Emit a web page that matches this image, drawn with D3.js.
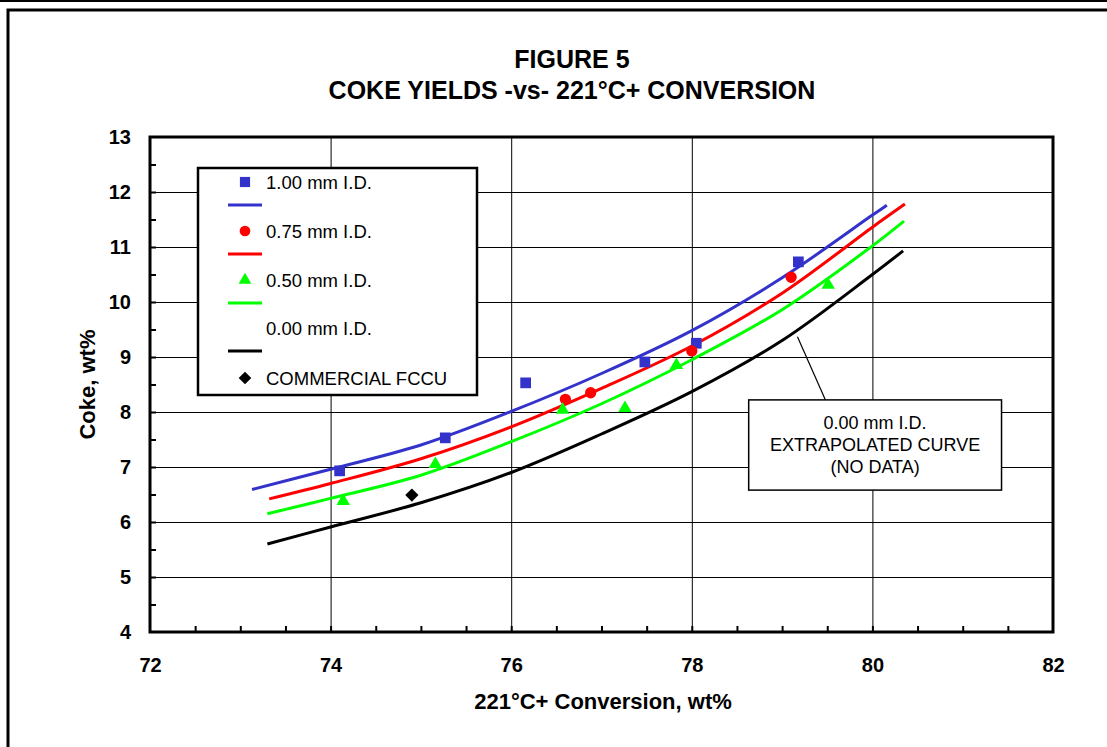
<!DOCTYPE html>
<html>
<head>
<meta charset="utf-8">
<script src="https://cdn.jsdelivr.net/npm/d3@7/dist/d3.min.js"></script>
<style>
  body { margin: 0; background: #fff; }
  svg { display: block; font-family: "Liberation Sans", Arial, sans-serif; }
  .grid line { stroke: #000; stroke-width: 1; }
  .grid path, .minor path, .labels path { display: none; }
  .minor line { stroke: #000; stroke-width: 2; }
  .labels text { font-size: 20px; font-weight: bold; fill: #000; }
</style>
</head>
<body>
<div id="chart"></div>
<script>
//wrap everything in a self-executing anonymous function
(function(){

  //tick labels
  var xTicks = [72, 74, 76, 78, 80, 82];
  var yTicks = [4, 5, 6, 7, 8, 9, 10, 11, 12, 13];

  var id100X = [74.10, 75.27, 76.16, 77.48, 78.05, 79.18];
  var id100Y = [6.93, 7.53, 8.53, 8.91, 9.25, 10.73];
  var id075X = [76.60, 76.88, 78.00, 79.10];
  var id075Y = [8.23, 8.35, 9.11, 10.45];
  var id050X = [74.14, 75.16, 76.57, 77.26, 77.83, 79.51];
  var id050Y = [6.38, 7.05, 8.04, 8.07, 8.85, 10.31];
  var fccuX = [74.90];
  var fccuY = [6.49];

  //fitted curves
  var fit100X = [73.13, 74, 75, 76, 77, 78, 79, 80, 80.16];
  var fit100Y = [6.59, 6.96, 7.40, 8.01, 8.70, 9.48, 10.44, 11.58, 11.76];
  var fit075X = [73.32, 74, 75, 76, 77, 78, 79, 80, 80.36];
  var fit075Y = [6.42, 6.70, 7.15, 7.73, 8.43, 9.20, 10.16, 11.36, 11.78];
  var fit050X = [73.30, 74, 75, 76, 77, 78, 79, 80, 80.35];
  var fit050Y = [6.15, 6.43, 6.85, 7.46, 8.15, 8.95, 9.86, 11.02, 11.47];
  var fit000X = [73.30, 74, 75, 76, 77, 78, 79, 80, 80.34];
  var fit000Y = [5.60, 5.91, 6.35, 6.90, 7.60, 8.37, 9.30, 10.50, 10.93];

  var titleLines = ["FIGURE 5", "COKE YIELDS -vs- 221°C+ CONVERSION"];
  var legendLabels = ["1.00 mm I.D.", "0.75 mm I.D.", "0.50 mm I.D.", "0.00 mm I.D.", "COMMERCIAL FCCU"];
  var noteLines = ["0.00 mm I.D.", "EXTRAPOLATED CURVE", "(NO DATA)"];

  var blue = "#3333CC", red = "#FF0000", green = "#00FF00", black = "#000000";

  window.onload = setChart();

  function zip(xs, ys){
    return xs.map(function(v, i){ return [v, ys[i]]; });
  };

  function setChart(){
    var width = 1107, height = 747;
    var left = 150, right = 1053, top = 137, bottom = 632;

    var svg = d3.select("#chart")
      .append("svg")
      .attr("width", width)
      .attr("height", height);

    //outer page frame
    svg.append("line")
      .attr("x1", 0).attr("x2", width).attr("y1", 1).attr("y2", 1)
      .attr("stroke", "#000").attr("stroke-width", 2);
    svg.append("rect")
      .attr("x", 8).attr("y", 10)
      .attr("width", width + 10).attr("height", height + 10)
      .attr("fill", "none").attr("stroke", "#000").attr("stroke-width", 3);

    var x = d3.scaleLinear().domain([72, 82]).range([left, right]);
    var y = d3.scaleLinear().domain([4, 13]).range([bottom, top]);

    //title
    svg.selectAll(".title")
      .data(titleLines)
      .enter()
      .append("text")
      .attr("class", "title")
      .attr("x", 572)
      .attr("y", function(d, i){ return 68 + i * 31; })
      .attr("text-anchor", "middle")
      .style("font-size", "25px")
      .style("font-weight", "bold")
      .text(function(d){ return d; });

    //gridlines
    svg.append("g")
      .attr("class", "grid")
      .attr("transform", "translate(0," + bottom + ")")
      .call(d3.axisBottom(x).tickValues([74, 76, 78, 80]).tickSize(-(bottom - top)).tickFormat(""));
    svg.append("g")
      .attr("class", "grid")
      .attr("transform", "translate(" + left + ",0)")
      .call(d3.axisLeft(y).tickValues(d3.range(5, 13)).tickSize(-(right - left)).tickFormat(""));

    //minor ticks every half unit
    svg.append("g")
      .attr("class", "minor")
      .attr("transform", "translate(0," + bottom + ")")
      .call(d3.axisBottom(x).tickValues(d3.range(72.5, 82, 0.5)).tickSize(-6).tickFormat(""));
    svg.append("g")
      .attr("class", "minor")
      .attr("transform", "translate(" + left + ",0)")
      .call(d3.axisLeft(y).tickValues(d3.range(4.5, 13, 0.5)).tickSize(-6).tickFormat(""));

    //tick labels
    svg.append("g")
      .attr("class", "labels")
      .attr("transform", "translate(0," + bottom + ")")
      .call(d3.axisBottom(x).tickValues(xTicks).tickSize(0).tickPadding(26));
    svg.append("g")
      .attr("class", "labels")
      .attr("transform", "translate(" + left + ",0)")
      .call(d3.axisLeft(y).tickValues(yTicks).tickSize(0).tickPadding(19));

    //axis titles
    svg.append("text")
      .attr("x", 603)
      .attr("y", 709)
      .attr("text-anchor", "middle")
      .style("font-size", "22px")
      .style("font-weight", "bold")
      .text("221°C+ Conversion, wt%");
    svg.append("text")
      .attr("transform", "translate(95," + ((top + bottom) / 2) + ") rotate(-90)")
      .attr("text-anchor", "middle")
      .style("font-size", "22px")
      .style("font-weight", "bold")
      .text("Coke, wt%");

    //curves
    var line = d3.line()
      .x(function(d){ return x(d[0]); })
      .y(function(d){ return y(d[1]); })
      .curve(d3.curveCatmullRom);

    var curves = [
      {pts: zip(fit100X, fit100Y), color: blue},
      {pts: zip(fit075X, fit075Y), color: red},
      {pts: zip(fit050X, fit050Y), color: green},
      {pts: zip(fit000X, fit000Y), color: black}
    ];
    svg.selectAll(".curve")
      .data(curves)
      .enter()
      .append("path")
      .attr("class", "curve")
      .attr("d", function(d){ return line(d.pts); })
      .attr("fill", "none")
      .attr("stroke", function(d){ return d.color; })
      .attr("stroke-width", 3);

    //markers
    var sets = [
      {pts: zip(id100X, id100Y), color: blue, sym: d3.symbolSquare, size: 115, rot: 0},
      {pts: zip(id075X, id075Y), color: red, sym: d3.symbolCircle, size: 100, rot: 0},
      {pts: zip(id050X, id050Y), color: green, sym: d3.symbolTriangle, size: 78, rot: 0},
      {pts: zip(fccuX, fccuY), color: black, sym: d3.symbolSquare, size: 88, rot: 45}
    ];
    sets.forEach(function(s){
      svg.selectAll(null)
        .data(s.pts)
        .enter()
        .append("path")
        .attr("d", d3.symbol().type(s.sym).size(s.size))
        .attr("transform", function(d){
          return "translate(" + x(d[0]) + "," + y(d[1]) + ") rotate(" + s.rot + ")";
        })
        .attr("fill", s.color);
    });

    //legend
    var legend = svg.append("g").attr("class", "legend");
    legend.append("rect")
      .attr("x", 198).attr("y", 168)
      .attr("width", 279).attr("height", 227)
      .attr("fill", "#fff").attr("stroke", "#000").attr("stroke-width", 2.5);

    var rowY = [182, 231, 280, 328, 378];
    legendLabels.forEach(function(lab, i){
      legend.append("text")
        .attr("x", 266).attr("y", rowY[i] + 6.5)
        .style("font-size", "18.5px")
        .text(lab);
      if (i < 3 || i == 4) {
        var s = sets[i == 4 ? 3 : i];
        legend.append("path")
          .attr("d", d3.symbol().type(s.sym).size(s.size * 0.9))
          .attr("transform", "translate(245," + rowY[i] + ") rotate(" + s.rot + ")")
          .attr("fill", s.color);
      }
      if (i < 4) {
        legend.append("line")
          .attr("x1", 228).attr("x2", 262)
          .attr("y1", rowY[i] + 23).attr("y2", rowY[i] + 23)
          .attr("stroke", curves[i].color).attr("stroke-width", 3);
      }
    });

    //note box with leader line
    svg.append("line")
      .attr("x1", x(79.17)).attr("y1", y(9.37))
      .attr("x2", x(79.48)).attr("y2", y(8.22))
      .attr("stroke", "#000").attr("stroke-width", 1.2);
    svg.append("rect")
      .attr("x", x(78.63)).attr("y", y(8.22))
      .attr("width", x(81.43) - x(78.63)).attr("height", y(6.58) - y(8.22))
      .attr("fill", "#fff").attr("stroke", "#000").attr("stroke-width", 1.5);
    svg.selectAll(".note")
      .data(noteLines)
      .enter()
      .append("text")
      .attr("class", "note")
      .attr("x", (x(78.63) + x(81.43)) / 2)
      .attr("y", function(d, i){ return 429 + i * 22; })
      .attr("text-anchor", "middle")
      .style("font-size", "18px")
      .text(function(d){ return d; });

    //plot frame
    svg.append("rect")
      .attr("x", left).attr("y", top)
      .attr("width", right - left).attr("height", bottom - top)
      .attr("fill", "none").attr("stroke", "#000").attr("stroke-width", 3);
  };

})();
</script>
</body>
</html>
